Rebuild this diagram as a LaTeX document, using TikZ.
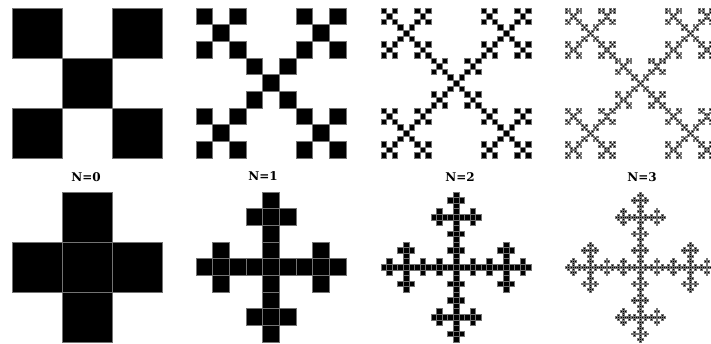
\documentclass[tikz,border=0pt]{standalone}
\usepackage{fontspec}
\setmainfont{DejaVu Serif}
\tikzset{
  cellbox/.style={fill=black, draw=black!55, line width=0.4pt},
  lbl/.style={font=\bfseries\fontsize{12}{14}\selectfont, inner sep=0pt}
}
% \vrec{level}{x}{y}{size}{pattern}
\newcommand\vrec[5]{%
  \ifnum#1=0
    \path[cellbox] (#2,#3) rectangle ++(#4,#4);%
  \else
    \foreach \a/\b in {#5} {%
      \pgfmathsetmacro\vnx{#2+\a*#4/3}%
      \pgfmathsetmacro\vny{#3+\b*#4/3}%
      \pgfmathsetmacro\vns{#4/3}%
      \pgfmathtruncatemacro\vnl{#1-1}%
      \edef\vtmp{\noexpand\vrec{\vnl}{\vnx}{\vny}{\vns}{#5}}%
      \vtmp
    }%
  \fi
}
\begin{document}
\begin{tikzpicture}[x=1pt,y=-1pt]
\useasboundingbox (0,0) rectangle (711,344);
\begin{scope}
\clip (0,0) rectangle (711,344);
% top row: saltire Vicsek
\vrec{1}{12}{8}{150}{0/0,2/0,1/1,0/2,2/2}
\vrec{2}{196}{8}{150}{0/0,2/0,1/1,0/2,2/2}
\vrec{3}{381}{8}{150}{0/0,2/0,1/1,0/2,2/2}
\vrec{4}{565}{8}{150}{0/0,2/0,1/1,0/2,2/2}
% bottom row: cross Vicsek
\vrec{1}{12}{192}{150}{1/0,0/1,1/1,2/1,1/2}
\vrec{2}{196}{192}{150}{1/0,0/1,1/1,2/1,1/2}
\vrec{3}{381}{192}{150}{1/0,0/1,1/1,2/1,1/2}
\vrec{4}{565}{192}{150}{1/0,0/1,1/1,2/1,1/2}
\end{scope}
\node[lbl] (n0) at (86,177) {N=0};
\node[lbl] (n1) at (263,176) {N=1};
\node[lbl] (n2) at (460,177) {N=2};
\node[lbl] (n3) at (642,177) {N=3};
\end{tikzpicture}
\end{document}
